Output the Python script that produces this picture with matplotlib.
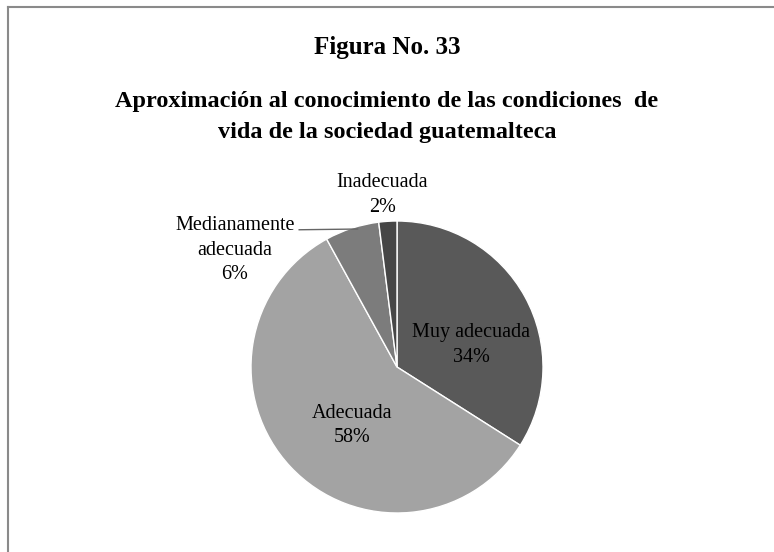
import matplotlib.pyplot as plt
from matplotlib.lines import Line2D

# Data
#-----
categories = ['Muy adecuada', 'Adecuada', 'Medianamente\nadecuada', 'Inadecuada']
values     = [34, 58, 6, 2]
colors     = ['#595959', '#a3a3a3', '#7c7c7c', '#464646']

plt.rcParams['font.family'] = ['Liberation Serif', 'DejaVu Serif']

fig = plt.figure(figsize=(7.74, 5.52), dpi=100)

# frame (only top and left edges visible in the original crop)
fig.add_artist(Line2D([8/774, 1], [1 - 7/552, 1 - 7/552], color='#8a8a8a', lw=1.5))
fig.add_artist(Line2D([8/774, 8/774], [0, 1 - 7/552], color='#8a8a8a', lw=1.5))

fig.text(0.5, 1 - 48/552, 'Figura No. 33', ha='center', va='center',
         fontsize=18, fontweight='bold')
fig.text(0.5, 1 - 117/552,
         'Aproximación al conocimiento de las condiciones  de\nvida de la sociedad guatemalteca',
         ha='center', va='center', fontsize=17.5, fontweight='bold', linespacing=1.6)

ax = fig.add_axes([(397 - 146)/774, 1 - (367 + 146)/552, 292/774, 292/552])
wedges, _ = ax.pie(values, colors=colors, startangle=90, counterclock=False,
                   wedgeprops=dict(edgecolor='white', linewidth=1))
ax.set_xlim(-1, 1)
ax.set_ylim(-1, 1)
ax.set_aspect('equal')

labels = [f'{c}\n{v}%' for c, v in zip(categories, values)]
fs = 14.5
ls = 1.4
ax.text(0.51, 0.15, labels[0], ha='center', va='center', fontsize=fs, linespacing=ls)
ax.text(-0.31, -0.40, labels[1], ha='center', va='center', fontsize=fs, linespacing=ls)
ax.text(-1.11, 0.80, labels[2], ha='center', va='center', fontsize=fs, linespacing=ls)
ax.text(-0.10, 1.18, labels[3], ha='center', va='center', fontsize=fs, linespacing=ls)
ax.plot([-0.67, -0.27], [0.94, 0.945], color='#666666', lw=1, clip_on=False)

plt.savefig('out.png', dpi=100)
